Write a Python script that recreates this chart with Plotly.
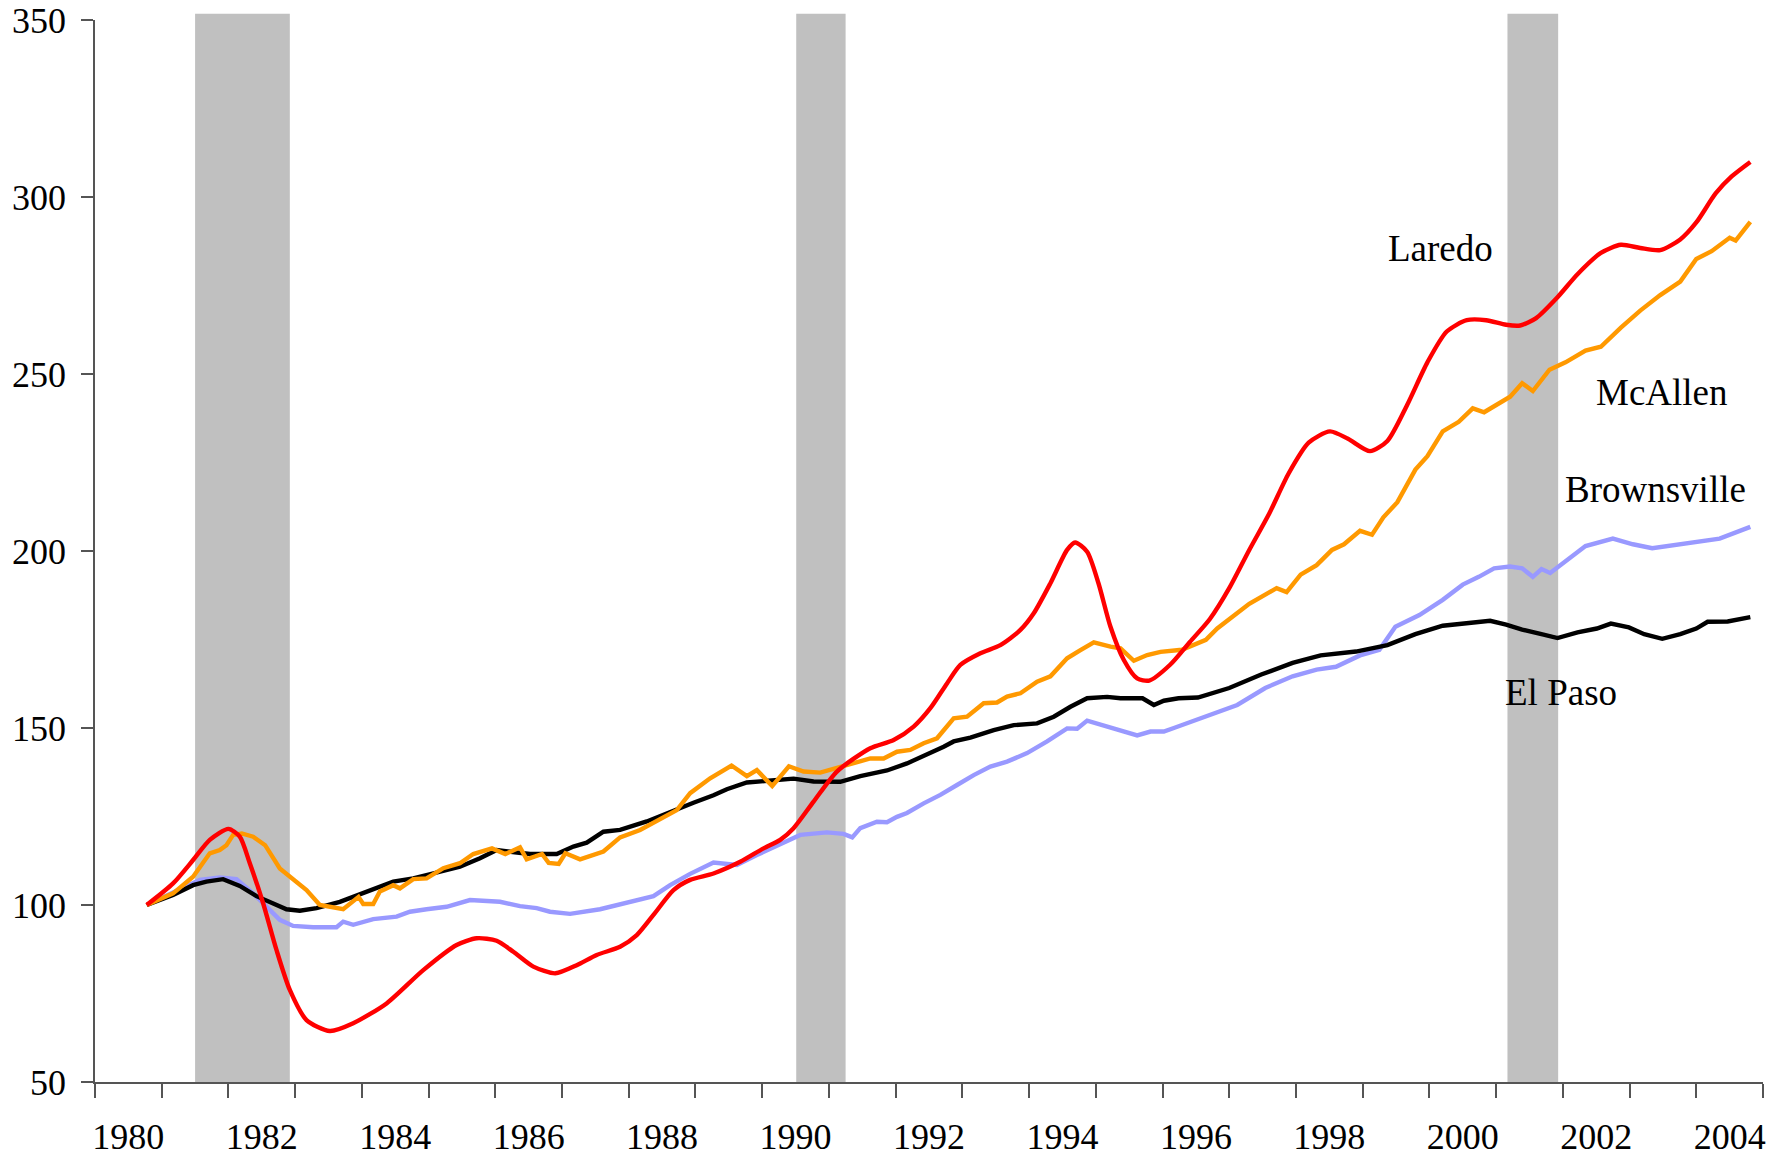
import plotly.graph_objects as go

# ---------------- data ----------------
laredo_x = [1980.775, 1981.17, 1981.47, 1981.72, 1982.0, 1982.17, 1982.32, 1982.52, 1982.72, 1982.92,
            1983.17, 1983.52, 1983.87, 1984.37, 1984.92, 1985.42, 1985.72, 1986.02, 1986.27, 1986.57,
            1986.9, 1987.22, 1987.52, 1987.87, 1988.12, 1988.37, 1988.67, 1988.92, 1989.27, 1989.67,
            1990.02, 1990.27, 1990.47, 1990.77, 1991.12, 1991.62, 1991.97, 1992.27, 1992.52, 1992.77,
            1992.97, 1993.27, 1993.57, 1993.87, 1994.07, 1994.32, 1994.57, 1994.69, 1994.87, 1995.04,
            1995.22, 1995.42, 1995.62, 1995.8, 1996.11, 1996.41, 1996.71, 1997.0, 1997.3, 1997.6,
            1997.89, 1998.19, 1998.51, 1998.78, 1999.11, 1999.37, 1999.67, 1999.97, 2000.26, 2000.56,
            2000.85, 2001.15, 2001.36, 2001.6, 2001.92, 2002.22, 2002.57, 2002.87, 2003.16, 2003.46,
            2003.76, 2004.0, 2004.29, 2004.53, 2004.81]
laredo_y = [100, 106.1, 112.7, 118.4, 121.5, 119.3, 111.8, 100.5, 87.3, 76,
            67.5, 64.4, 66.6, 72.2, 81.6, 88.7, 90.6, 89.9, 86.8, 82.6,
            80.7, 83.0, 85.9, 88.2, 91.5, 97.2, 104.2, 107.1, 108.9, 112.2,
            116.0, 118.4, 121.7, 129.2, 137.7, 144.3, 146.6, 150.4, 155.6, 162.6,
            167.8, 171.1, 173.4, 177.7, 182.4, 190.9, 200.3, 202.4, 199.8, 190.9,
            178.6, 169.2, 164.0, 163.4, 167.8, 174.3, 180.8, 189.5, 200.3, 210.6,
            221.9, 230.6, 233.8, 231.7, 228.2, 231.1, 241.4, 253.3, 262.0, 265.2,
            265.2, 263.9, 263.7, 265.8, 271.7, 278.2, 284.2, 286.5, 285.6, 285.0,
            288.0, 292.8, 301.0, 305.8, 309.9]

mcallen_x = [1980.775, 1981.17, 1981.47, 1981.72, 1981.87, 1981.97, 1982.07, 1982.2, 1982.37, 1982.55,
             1982.77, 1982.97, 1983.17, 1983.37, 1983.57, 1983.72, 1983.95, 1984.02, 1984.17, 1984.27,
             1984.47, 1984.57, 1984.77, 1984.97, 1985.22, 1985.47, 1985.67, 1985.87, 1985.95, 1986.15,
             1986.37, 1986.47, 1986.7, 1986.8, 1986.95, 1987.05, 1987.27, 1987.62, 1987.87, 1988.17,
             1988.52, 1988.72, 1988.92, 1989.22, 1989.54, 1989.77, 1989.92, 1990.15, 1990.4, 1990.62,
             1990.87, 1991.27, 1991.62, 1991.82, 1992.02, 1992.22, 1992.42, 1992.62, 1992.87, 1993.07,
             1993.32, 1993.52, 1993.67, 1993.87, 1994.12, 1994.32, 1994.57, 1994.77, 1994.97, 1995.22,
             1995.37, 1995.57, 1995.77, 1995.97, 1996.29, 1996.65, 1996.82, 1997.3, 1997.71, 1997.86,
             1998.07, 1998.31, 1998.54, 1998.72, 1998.96, 1999.14, 1999.31, 1999.52, 1999.79, 1999.97,
             2000.2, 2000.44, 2000.65, 2000.82, 2001.03, 2001.21, 2001.39, 2001.55, 2001.8, 2002.04,
             2002.34, 2002.57, 2002.87, 2003.16, 2003.46, 2003.76, 2004.0, 2004.23, 2004.5, 2004.59,
             2004.81]
mcallen_y = [100, 103.3, 108.0, 114.6, 115.5, 116.9, 119.8, 120.2, 119.3, 116.9,
             110.3, 107.1, 104.2, 100.0, 99.3, 98.8, 102.3, 100.3, 100.3, 103.8,
             105.6, 104.7, 107.3, 107.5, 110.4, 111.8, 114.4, 115.5, 116.0, 114.4,
             116.3, 112.9, 114.4, 111.9, 111.6, 114.6, 112.9, 115.1, 119.1, 121.2,
             124.9, 126.8, 131.6, 135.8, 139.4, 136.4, 138.1, 133.6, 139.2, 137.7,
             137.4, 139.6, 141.4, 141.4, 143.3, 143.8, 145.7, 147.1, 152.7, 153.2,
             157.0, 157.2, 158.9, 159.8, 163.1, 164.6, 169.7, 172.0, 174.2, 173.0,
             172.5, 169.0, 170.6, 171.5, 172.1, 174.9, 178.1, 185.1, 189.5, 188.4,
             193.3, 196.0, 200.3, 201.9, 205.7, 204.6, 209.5, 213.8, 223.0, 226.8,
             233.8, 236.5, 240.3, 239.2, 241.6, 243.6, 247.4, 245.2, 251.2, 253.3,
             256.6, 257.7, 263.1, 267.9, 272.3, 276.1, 282.5, 284.7, 288.5, 287.7,
             293.0]

brownsville_x = [1980.775, 1981.17, 1981.57, 1981.87, 1982.12, 1982.37, 1982.62, 1982.77, 1982.97, 1983.27,
                 1983.62, 1983.72, 1983.87, 1984.17, 1984.52, 1984.72, 1984.97, 1985.27, 1985.62, 1985.87,
                 1986.07, 1986.37, 1986.62, 1986.82, 1987.12, 1987.57, 1987.97, 1988.37, 1988.62, 1988.92,
                 1989.27, 1989.62, 1989.92, 1990.27, 1990.57, 1990.97, 1991.22, 1991.35, 1991.47, 1991.72,
                 1991.87, 1992.02, 1992.17, 1992.42, 1992.67, 1992.92, 1993.17, 1993.42, 1993.67, 1993.97,
                 1994.27, 1994.57, 1994.72, 1994.87, 1995.17, 1995.37, 1995.62, 1995.82, 1996.02, 1996.17,
                 1996.41, 1996.71, 1997.12, 1997.54, 1997.95, 1998.31, 1998.6, 1998.96, 1999.25, 1999.49,
                 1999.85, 2000.2, 2000.5, 2000.74, 2000.97, 2001.21, 2001.39, 2001.55, 2001.68, 2001.81,
                 2002.04, 2002.34, 2002.75, 2003.05, 2003.34, 2003.64, 2004.0, 2004.35, 2004.81]
brownsville_y = [100, 103.5, 107.1, 107.8, 107.3, 103.3, 98.6, 95.8, 94.1, 93.7,
                 93.7, 95.3, 94.4, 96.0, 96.7, 98.1, 98.8, 99.5, 101.4, 101.1,
                 100.9, 99.7, 99.1, 98.1, 97.5, 98.8, 100.5, 102.5, 105.6, 108.8,
                 112.0, 111.3, 114.1, 117.1, 119.8, 120.5, 120.1, 119.1, 121.7, 123.5,
                 123.4, 124.9, 126.0, 128.7, 131.1, 133.9, 136.7, 139.1, 140.5, 142.9,
                 146.2, 149.9, 149.8, 152.1, 150.4, 149.0, 147.9, 149.0, 149.0, 150.0,
                 151.6, 153.7, 156.5, 161.3, 164.6, 166.5, 167.3, 170.5, 172.1, 178.6,
                 181.9, 186.2, 190.5, 192.7, 195.1, 195.6, 195.1, 192.7, 194.9, 193.8,
                 197.0, 201.4, 203.5, 201.9, 200.8, 201.6, 202.5, 203.5, 206.8]

elpaso_x = [1980.775, 1981.17, 1981.47, 1981.67, 1981.92, 1982.17, 1982.42, 1982.67, 1982.87, 1983.07,
            1983.32, 1983.67, 1984.07, 1984.47, 1984.77, 1985.07, 1985.47, 1985.77, 1986.02, 1986.52,
            1986.92, 1987.17, 1987.37, 1987.62, 1987.87, 1988.27, 1988.62, 1988.97, 1989.27, 1989.47,
            1989.77, 1990.12, 1990.47, 1990.77, 1991.17, 1991.47, 1991.72, 1991.87, 1992.17, 1992.52,
            1992.72, 1992.87, 1993.12, 1993.47, 1993.77, 1994.12, 1994.37, 1994.62, 1994.87, 1995.17,
            1995.37, 1995.7, 1995.87, 1996.02, 1996.24, 1996.53, 1997.0, 1997.48, 1997.95, 1998.37,
            1998.9, 1999.37, 1999.79, 2000.2, 2000.56, 2000.91, 2001.15, 2001.39, 2001.68, 2001.92,
            2002.22, 2002.51, 2002.72, 2002.99, 2003.22, 2003.49, 2003.76, 2004.0, 2004.17, 2004.47,
            2004.81]
elpaso_y = [100, 102.8, 105.6, 106.6, 107.3, 105.4, 102.5, 100.3, 98.8, 98.4,
            99.1, 100.9, 103.7, 106.6, 107.5, 108.8, 110.8, 113.2, 115.5, 114.4,
            114.4, 116.5, 117.6, 120.7, 121.2, 123.6, 126.4, 128.9, 131.0, 132.7,
            134.6, 135.2, 135.7, 134.9, 134.8, 136.4, 137.4, 138.0, 140.0, 142.9,
            144.7, 146.2, 147.3, 149.4, 150.8, 151.3, 153.2, 156.0, 158.4, 158.8,
            158.4, 158.4, 156.5, 157.7, 158.4, 158.6, 161.3, 165.1, 168.4, 170.5,
            171.6, 173.4, 176.5, 178.9, 179.5, 180.3, 179.2, 177.8, 176.5, 175.4,
            177.0, 178.1, 179.5, 178.4, 176.5, 175.2, 176.5, 178.1, 180.0, 180.1,
            181.3]

# recession periods (start, end) in decimal years
recessions = [(1981.5, 1982.92), (1990.51, 1991.25), (2001.17, 2001.93)]

# series labels: (text, x, y)
labels = [("Laredo", 2000.16, 285.5), ("McAllen", 2003.49, 244.7),
          ("Brownsville", 2003.39, 217.4), ("El Paso", 2001.97, 159.9)]

year_ticks = list(range(1980, 2006))
year_labels = [str(y) for y in range(1980, 2005, 2)]

# ---------------- figure ----------------
FONT = "Liberation Serif, Times New Roman, serif"
fig = go.Figure()

series = [
    ("Brownsville", brownsville_x, brownsville_y, "#9999FF", "linear"),
    ("El Paso", elpaso_x, elpaso_y, "#000000", "linear"),
    ("McAllen", mcallen_x, mcallen_y, "#FF9900", "linear"),
    ("Laredo", laredo_x, laredo_y, "#FF0000", "spline"),
]
for name, xs, ys, col, shp in series:
    line = dict(color=col, width=4.4, shape=shp)
    if shp == "spline":
        line["smoothing"] = 0.7
    fig.add_trace(go.Scatter(x=xs, y=ys, mode="lines", name=name, line=line,
                             showlegend=False, hoverinfo="skip"))

# dummy trace so that the label axis is drawn
fig.add_trace(go.Scatter(x=[1980, 2005], y=[None, None], xaxis="x2", mode="lines",
                         showlegend=False, hoverinfo="skip"))

for a, b in recessions:
    fig.add_shape(type="rect", xref="x", yref="paper", x0=a, x1=b, y0=0, y1=1.006,
                  fillcolor="#C0C0C0", line_width=0, layer="below")

for txt, lx, ly in labels:
    fig.add_annotation(x=lx, y=ly, text=txt, showarrow=False,
                       font=dict(family=FONT, size=37, color="black"))

fig.update_layout(
    width=1784, height=1148,
    margin=dict(l=87, r=29, t=12, b=74),
    plot_bgcolor="white", paper_bgcolor="white",
    font=dict(family=FONT, size=36, color="black"),
    xaxis=dict(range=[1980, 2005], tickvals=year_ticks, ticktext=[""] * len(year_ticks),
               ticks="outside", ticklen=14, tickcolor="#555555", tickwidth=1.5,
               showline=True, linecolor="#555555", linewidth=1.5, showgrid=False,
               zeroline=False, automargin=False),
    xaxis2=dict(range=[1980, 2005], overlaying="x", side="bottom", anchor="y",
                tickvals=[y + 0.5 for y in range(1980, 2005, 2)], ticktext=year_labels,
                ticks="", showline=False, showgrid=False, zeroline=False,
                tickfont=dict(family=FONT, size=36, color="black"),
                ticklabelstandoff=30, automargin=False, ticklabeloverflow="allow"),
    yaxis=dict(range=[50, 350], tickvals=[50, 100, 150, 200, 250, 300, 350],
               ticks="outside", ticklen=12, tickcolor="#555555", tickwidth=1.5,
               showline=True, linecolor="#555555", linewidth=1.5, showgrid=False,
               zeroline=False, tickfont=dict(family=FONT, size=36, color="black"),
               ticklabelstandoff=8, automargin=False, ticklabeloverflow="allow"),
)

fig.write_html("out.html")
